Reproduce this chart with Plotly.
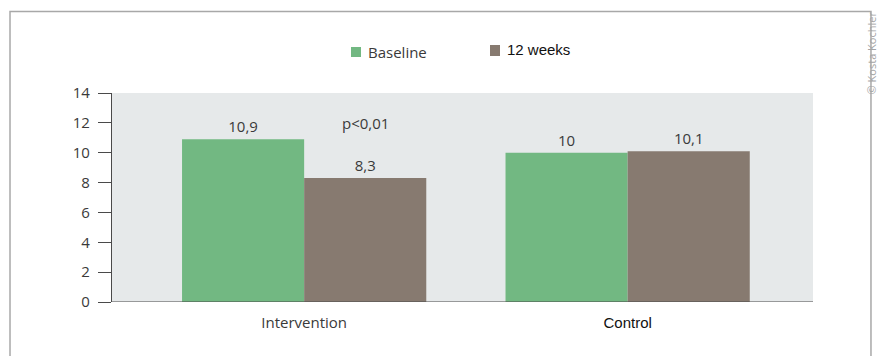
import plotly.graph_objects as go

# Data
groups = ["Intervention", "Control"]
baseline = [10.9, 10.0]
week12 = [8.3, 10.1]
series_names = ["Baseline", "12 weeks"]
y_ticks = [0, 2, 4, 6, 8, 10, 12, 14]
p_label = "p<0,01"

GREEN = "#72b882"
BROWN = "#877a70"
TXT = "#3a3a3a"
SANS = "Open Sans"


def fmt(v):
    s = f"{v:.1f}".replace(".", ",")
    return s[:-2] if s.endswith(",0") else s


xpos = list(range(len(groups)))

fig = go.Figure()
fig.add_trace(go.Bar(
    x=xpos, y=baseline, name=series_names[0],
    marker=dict(color=GREEN, line=dict(width=0)),
    text=[fmt(v) for v in baseline], textposition="outside",
    textfont=dict(family=SANS, size=15, color=TXT), cliponaxis=False,
))
fig.add_trace(go.Bar(
    x=xpos, y=week12, name=series_names[1],
    marker=dict(color=BROWN, line=dict(width=0)),
    text=[fmt(v) for v in week12], textposition="outside",
    textfont=dict(family=SANS, size=15, color=TXT), cliponaxis=False,
))

tick_text = [
    f"<span style='font-family:{SANS};color:{TXT}'>{groups[0]}</span>",
    f"<span style='font-family:Arial;color:#111'>{groups[1]}</span>",
]

fig.update_layout(
    width=881, height=356,
    margin=dict(l=112, r=68, t=93, b=54),
    paper_bgcolor="white",
    plot_bgcolor="#e6e9ea",
    barmode="group",
    bargap=0.245,
    bargroupgap=0,
    font=dict(family=SANS, size=15, color=TXT),
    showlegend=False,
    xaxis=dict(
        range=[-0.594, 1.573], tickmode="array", tickvals=xpos, ticktext=tick_text,
        showgrid=False, zeroline=False, showline=False, ticks="",
        tickfont=dict(size=15), ticklabelstandoff=10,
    ),
    yaxis=dict(
        range=[0, 14], tickmode="array", tickvals=y_ticks,
        ticktext=[str(t) for t in y_ticks],
        showgrid=False, zeroline=False,
        showline=True, linecolor="#4a4a4a", linewidth=1.2,
        ticks="outside", ticklen=13, tickcolor="#4a4a4a", tickwidth=1.2,
        tickfont=dict(family=SANS, size=15, color=TXT),
        ticklabelstandoff=5,
    ),
)

# baseline axis along y = 0
fig.add_shape(type="line", xref="paper", yref="y", x0=0, x1=1, y0=0, y1=0,
              line=dict(color="#4a4a4a", width=1.2), layer="above")
# short extension of the vertical axis below zero
fig.add_shape(type="line", xref="paper", yref="y", ysizemode="pixel", yanchor=0,
              x0=0, x1=0, y0=0, y1=-6, line=dict(color="#4a4a4a", width=1.2))

# outer frame
fig.add_shape(type="rect", xref="paper", yref="paper",
              x0=-0.1455, x1=1.0827, y0=-0.30, y1=1.39,
              line=dict(color="#a8a8a8", width=1.5), layer="below")

# legend: colour keys and labels
legend_items = [
    (GREEN, series_names[0], SANS, TXT, 0.3409, 0.3552, 1.1722, 1.2201, 1.196),
    (BROWN, series_names[1], "Arial", "#111", 0.5392, 0.5535, 1.177, 1.2297, 1.2105),
]
for color, label, fam, fcol, kx0, kx1, ky0, ky1, ty in legend_items:
    fig.add_shape(type="rect", xref="paper", yref="paper",
                  x0=kx0, x1=kx1, y0=ky0, y1=ky1,
                  fillcolor=color, line=dict(width=0))
    fig.add_annotation(x=kx1 + 0.0075, y=ty, xref="paper", yref="paper",
                       text=label, showarrow=False, xanchor="left", yanchor="middle",
                       font=dict(family=fam, size=15, color=fcol))

# significance label above the 12-week intervention bar
fig.add_annotation(x=0.189, y=baseline[0], xref="x", yref="y", text=p_label,
                   showarrow=False, yanchor="bottom", yshift=4,
                   font=dict(family=SANS, size=15, color=TXT))

# vertical credit line on the right edge
fig.add_annotation(x=1.097, y=1.40, xref="paper", yref="paper",
                   text="© Kosta Kochler", textangle=-90, showarrow=False,
                   xanchor="right", yanchor="top",
                   font=dict(family=SANS, size=11, color="#a5a5a5"))

fig.write_html("out.html")
